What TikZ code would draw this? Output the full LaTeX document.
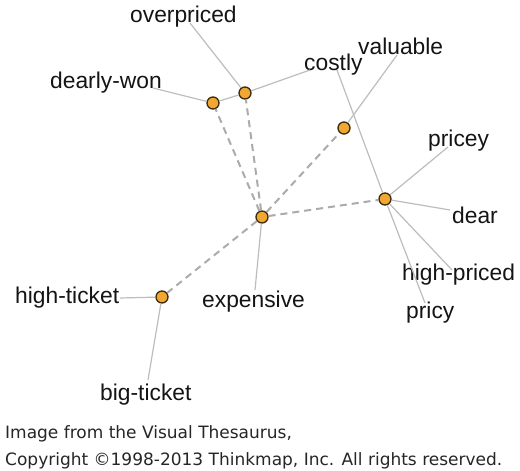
\documentclass[tikz,border=0pt]{standalone}
\usepackage{fontspec}
\setmainfont{Liberation Sans}
\newfontfamily\footfont{DejaVu Sans}
\definecolor{dotfill}{HTML}{F2A830}
\definecolor{dotline}{HTML}{3A2A10}
\definecolor{edgegray}{HTML}{BDBDBD}
\definecolor{dashgray}{HTML}{ABABAB}
\begin{document}
\begin{tikzpicture}[x=1pt,y=-1pt,
  dot/.style={circle,draw=dotline,line width=1.3pt,fill=dotfill,minimum size=12pt,inner sep=0pt},
  word/.style={anchor=base west,inner sep=0pt,font=\fontsize{22.8}{24}\selectfont,text=black!92},
  foot/.style={anchor=base west,inner sep=0pt,font=\footfont\fontsize{17}{20}\selectfont,text=black!85},
  solidedge/.style={draw=edgegray,line width=1.2pt},
  dashedge/.style={draw=dashgray,line width=2pt,dash pattern=on 7pt off 5pt}]
\fill[white] (0,0) rectangle (520,471);
\useasboundingbox (0,0) rectangle (520,471);
% labels
\node[word] (overpriced) at (130,22) {overpriced};
\node[word] (dearlywon) at (50,88) {dearly-won};
\node[word] (costly) at (304,70) {costly};
\node[word] (valuable) at (358,54) {valuable};
\node[word] (pricey) at (428,146) {pricey};
\node[word] (dear) at (452,223) {dear};
\node[word] (highpriced) at (402,280) {high-priced};
\node[word] (pricy) at (406,318) {pricy};
\node[word] (highticket) at (15,303) {high-ticket};
\node[word] (expensive) at (202,307) {expensive};
\node[word] (bigticket) at (100,400) {big-ticket};
% free ends
\coordinate (eDW) at (153,88);
\coordinate (eOP) at (190,23);
\coordinate (eCO) at (310,70);
\coordinate (eCO2) at (337,70);
\coordinate (ePY) at (425,303);
\coordinate (eVA) at (397,55);
\coordinate (ePE) at (448,147);
\coordinate (eDE) at (450,210);
\coordinate (eHP) at (452,270);
\coordinate (eEX) at (255,290);
\coordinate (eHT) at (120,298);
\coordinate (eBT) at (148,380);
% dots
\node[dot] (A) at (213,103) {};
\node[dot] (B) at (245,93) {};
\node[dot] (C) at (344,128) {};
\node[dot] (D) at (385,199) {};
\node[dot] (E) at (262,217) {};
\node[dot] (F) at (162,297) {};
% solid edges
\draw[solidedge] (A) -- (eDW);
\draw[solidedge] (A) -- (B);
\draw[solidedge] (B) -- (eOP);
\draw[solidedge] (B) -- (eCO);
\draw[solidedge] (eCO2) -- (D);
\draw[solidedge] (D) -- (ePY);
\draw[solidedge] (C) -- (eVA);
\draw[solidedge] (D) -- (ePE);
\draw[solidedge] (D) -- (eDE);
\draw[solidedge] (D) -- (eHP);
\draw[solidedge] (E) -- (eEX);
\draw[solidedge] (F) -- (eHT);
\draw[solidedge] (F) -- (eBT);
% dashed edges
\draw[dashedge] (E) -- (A);
\draw[dashedge] (E) -- (B);
\draw[dashedge] (E) -- (C);
\draw[dashedge] (E) -- (D);
\draw[dashedge] (E) -- (F);
% footer
\node[foot] (foot1) at (5,438) {Image from the Visual Thesaurus,};
\node[foot] (foot2) at (5,465) {Copyright ©1998-2013 Thinkmap, Inc. All rights reserved.};
\end{tikzpicture}
\end{document}
